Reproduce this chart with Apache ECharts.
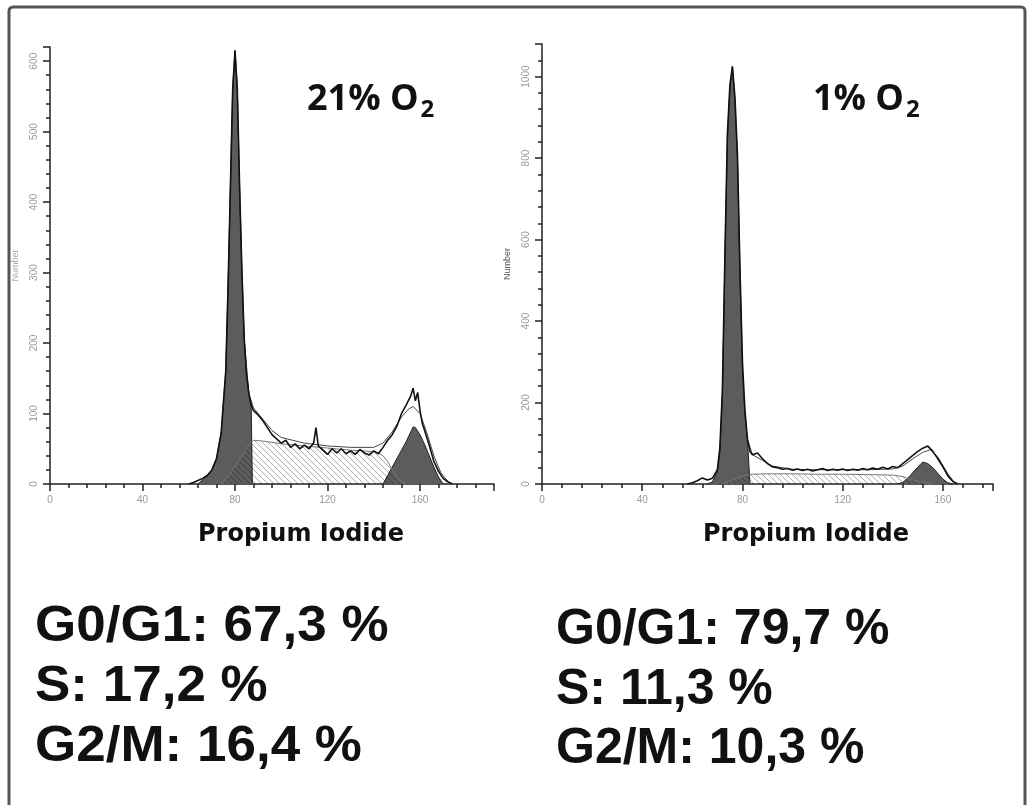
<!DOCTYPE html>
<html>
<head>
<meta charset="utf-8">
<script src="https://cdn.jsdelivr.net/npm/echarts@6/dist/echarts.min.js"></script>
<style>
  html, body { margin: 0; padding: 0; background: #fff; }
  #cycle { width: 1029px; height: 805px; }
</style>
</head>
<body>
<div id="cycle"></div>
<script>
// 21% O2 panel
const leftDataX = [60,62,64,66,68,70,72,74,76,77,78,79,80,81,82,83,84,85,86,87,88,90,92,94,96,98,100,102,104,106,108,110,112,114,115,116,118,120,122,124,126,128,130,132,134,136,138,140,142,144,146,148,150,152,154,156,157,158,159,160,161,162,164,166,168,170,172,174];
const leftDataY = [0,2,5,8,12,20,36,72,160,280,420,560,615,560,420,300,205,155,128,112,104,98,90,80,70,64,58,62,52,57,50,55,50,58,80,54,48,42,50,44,50,43,47,42,49,44,41,47,43,52,62,70,82,100,112,125,136,118,130,104,86,76,55,32,18,8,3,0];
const leftFitX = [84,86,88,92,96,100,110,120,130,140,144,148,152,155,157,160,163,166,169,172,174];
const leftFitY = [205,128,108,92,76,66,58,54,52,52,58,74,95,106,110,100,72,40,16,4,0];
const leftG1X = [64,66,68,70,72,74,76,77,78,79,80,81,82,83,84,85,86,87,87.5];
const leftG1Y = [0,6,12,20,36,72,160,280,420,560,615,560,420,300,205,155,128,112,0];
const leftSX = [74,76,78,80,82,84,86,88,92,100,110,120,130,140,142,144,146,148,150,152,154];
const leftSY = [0,8,15,25,35,45,55,62,61,57,54,51,48,46,44,40,32,20,10,4,0];
const leftG2X = [144,146,148,150,152,154,156,157,158,160,162,164,166,168,170];
const leftG2Y = [0,12,24,36,48,60,74,81,80,70,56,40,24,10,0];

// 1% O2 panel
const rightDataX = [58,60,62,64,66,68,70,71,72,73,74,75,76,77,78,79,80,81,82,83,84,86,88,90,92,94,96,98,100,102,104,106,108,110,112,114,116,118,120,122,124,126,128,130,132,134,136,138,140,142,144,146,148,150,152,154,156,158,160,162,164,166];
const rightDataY = [0,3,8,15,10,14,35,90,230,560,860,980,1025,950,810,530,300,180,110,80,72,76,62,50,42,40,36,38,34,37,33,36,32,35,38,33,36,34,37,33,36,34,38,35,39,36,41,37,43,40,50,60,70,80,88,93,80,62,42,20,6,0];
const rightFitX = [82,84,88,92,100,110,120,130,140,144,148,152,155,158,162,165];
const rightFitY = [110,72,58,44,36,35,35,35,37,44,62,78,84,66,25,0];
const rightG1X = [66,68,70,71,72,73,74,75,76,77,78,79,80,81,82,83];
const rightG1Y = [0,5,30,80,220,550,850,970,1025,940,800,520,280,170,110,0];
const rightSX = [72,74,76,78,80,82,84,90,100,110,120,130,140,144,148,152,156];
const rightSY = [0,5,10,15,19,22,24,25,25,24,24,23,22,18,10,4,0];
const rightG2X = [142,144,146,148,150,152,154,156,158,160,162,164];
const rightG2Y = [0,4,14,28,42,54,50,40,26,12,3,0];

const xTicks = [0, 40, 80, 120, 160];
const leftYTicks = [0, 100, 200, 300, 400, 500, 600];
const rightYTicks = [0, 200, 400, 600, 800, 1000];

const stats = {
    left: ['G0/G1: 67,3 %', 'S: 17,2 %', 'G2/M: 16,4 %'],
    right: ['G0/G1: 79,7 %', 'S: 11,3 %', 'G2/M: 10,3 %']
};

function hatchPattern() {
    const c = document.createElement('canvas');
    c.width = 6; c.height = 6;
    const ctx = c.getContext('2d');
    ctx.strokeStyle = 'rgba(0,0,0,0.32)';
    ctx.lineWidth = 1;
    ctx.beginPath();
    ctx.moveTo(0, 0); ctx.lineTo(6, 6);
    ctx.moveTo(-1, 5); ctx.lineTo(1, 7);
    ctx.moveTo(5, -1); ctx.lineTo(7, 1);
    ctx.stroke();
    return c;
}

function pairs(xs, ys) {
    return xs.map((x, i) => [x, ys[i]]);
}

function curve(xs, ys, idx, opts) {
    return Object.assign({
        type: 'line',
        xAxisIndex: idx,
        yAxisIndex: idx,
        data: pairs(xs, ys),
        showSymbol: false,
        silent: true,
        animation: false,
        lineStyle: { color: '#222', width: 1 }
    }, opts);
}

function panelSeries(idx, d) {
    const hatch = { image: hatchPattern(), repeat: 'repeat' };
    return [
        curve(d.g1x, d.g1y, idx, { z: 2, areaStyle: { color: '#5c5c5c', opacity: 1 } }),
        curve(d.g2x, d.g2y, idx, { z: 2, areaStyle: { color: '#5c5c5c', opacity: 1 } }),
        curve(d.sx, d.sy, idx, { z: 3, lineStyle: { color: '#777', width: 1 }, areaStyle: { color: hatch, opacity: 1 } }),
        curve(d.fx, d.fy, idx, { z: 4, lineStyle: { color: '#444', width: 1 } }),
        curve(d.dx, d.dy, idx, { z: 5, lineStyle: { color: '#111', width: 1.6 } })
    ];
}

function xAxisOf(idx, max, ticks) {
    return {
        type: 'value', gridIndex: idx, min: 0, max: max, interval: 40,
        axisLine: { lineStyle: { color: '#222', width: 1.5 } },
        axisTick: { length: 7, lineStyle: { color: '#222', width: 1.5 } },
        minorTick: { show: true, splitNumber: 5, length: 4, lineStyle: { color: '#222', width: 1.5 } },
        splitLine: { show: false },
        axisLabel: {
            color: '#999', fontSize: 10, margin: 11,
            formatter: v => ticks.includes(v) ? String(v) : ''
        }
    };
}

function yAxisOf(idx, max, interval, ticks, nameColor) {
    return {
        type: 'value', gridIndex: idx, min: 0, max: max, interval: interval,
        name: 'Number', nameLocation: 'middle', nameGap: 30, nameRotate: 90,
        nameTextStyle: { color: nameColor, fontSize: 9 },
        axisLine: { lineStyle: { color: '#222', width: 1.5 } },
        axisTick: { length: 7, lineStyle: { color: '#222', width: 1.5 } },
        minorTick: { show: true, splitNumber: 5, length: 4, lineStyle: { color: '#222', width: 1.5 } },
        splitLine: { show: false },
        axisLabel: {
            color: '#999', fontSize: 10, rotate: 90, margin: 11,
            formatter: v => ticks.includes(v) ? String(v) : ''
        }
    };
}

const chart = echarts.init(document.getElementById('cycle'));

const titleRich = {
    a: { fontFamily: 'Open Sans', fontWeight: 'bold', fontSize: 36, color: '#111', lineHeight: 46 },
    s: { fontFamily: 'Open Sans', fontWeight: 'bold', fontSize: 24, color: '#111', lineHeight: 46, padding: [20, 0, 0, 2] }
};

const statText = [];
['left', 'right'].forEach((side, k) => {
    const x = k === 0 ? 35 : 556;
    const ys = k === 0 ? [630, 690, 750] : [633, 693, 752];
    stats[side].forEach((t, i) => {
        statText.push({
            type: 'text', x: x, y: ys[i] - 28, scaleX: k === 0 ? 1.06 : 1.0,
            style: { text: t, fontFamily: 'Liberation Sans', fontWeight: 'bold', fontSize: 50, fill: '#111' }
        });
    });
});

const option = {
    backgroundColor: '#fff',
    animation: false,
    title: [
        { text: '{a|21% O}{s|2}', left: 302, top: 72, textStyle: { rich: titleRich } },
        { text: '{a|1% O}{s|2}', left: 808, top: 72, textStyle: { rich: titleRich } }
    ],
    grid: [
        { left: 50, top: 47, width: 444, height: 437 },
        { left: 542, top: 44, width: 451, height: 440 }
    ],
    xAxis: [xAxisOf(0, 192, xTicks), xAxisOf(1, 180, xTicks)],
    yAxis: [
        yAxisOf(0, 620, 100, leftYTicks, '#aaa'),
        yAxisOf(1, 1080, 200, rightYTicks, '#555')
    ],
    series: [].concat(
        panelSeries(0, { dx: leftDataX, dy: leftDataY, fx: leftFitX, fy: leftFitY, g1x: leftG1X, g1y: leftG1Y, sx: leftSX, sy: leftSY, g2x: leftG2X, g2y: leftG2Y }),
        panelSeries(1, { dx: rightDataX, dy: rightDataY, fx: rightFitX, fy: rightFitY, g1x: rightG1X, g1y: rightG1Y, sx: rightSX, sy: rightSY, g2x: rightG2X, g2y: rightG2Y })
    ),
    graphic: [
        { type: 'rect', shape: { x: 9, y: 7, width: 1016, height: 802, r: 4 },
          style: { fill: 'none', stroke: '#555', lineWidth: 3 } },
        { type: 'text', left: 198, top: 523,
          style: { text: 'Propium Iodide', fontFamily: 'DejaVu Sans', fontWeight: 'bold', fontSize: 24, fill: '#111' } },
        { type: 'text', left: 703, top: 523,
          style: { text: 'Propium Iodide', fontFamily: 'DejaVu Sans', fontWeight: 'bold', fontSize: 24, fill: '#111' } }
    ].concat(statText)
};

chart.setOption(option);
</script>
</body>
</html>
